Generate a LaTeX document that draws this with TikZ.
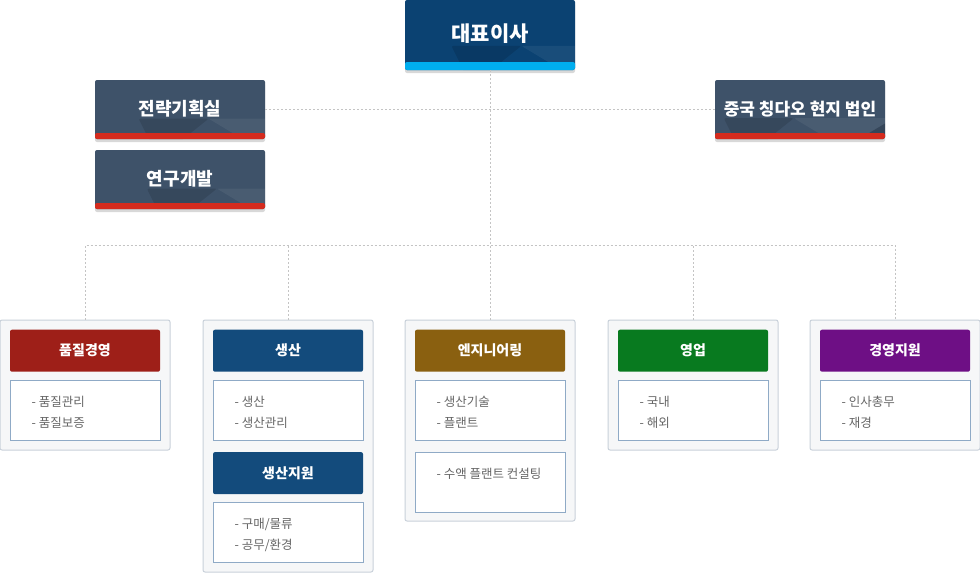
\documentclass[tikz,border=0pt]{standalone}
\usepackage{fontspec}
\setmainfont{Noto Sans CJK KR}
\usetikzlibrary{positioning,shadows}

\definecolor{ceoblue}{HTML}{0B4272}
\definecolor{ceoline}{HTML}{00AEEF}
\definecolor{slate}{HTML}{3E5269}
\definecolor{slateline}{HTML}{D52B1E}
\definecolor{qualred}{HTML}{9E1F18}
\definecolor{prodblue}{HTML}{134B7C}
\definecolor{engbrown}{HTML}{8A6010}
\definecolor{salesgreen}{HTML}{087A1F}
\definecolor{mgmtpurple}{HTML}{6E0F85}
\definecolor{panelgray}{HTML}{F6F7F8}
\definecolor{panelline}{HTML}{C9D1DA}
\definecolor{listline}{HTML}{8FAAC6}
\definecolor{listtext}{HTML}{666666}
\definecolor{dotline}{HTML}{C4C4C4}

\tikzset{
	facets/.style 2 args={path picture={
		\begin{scope}[shift={(path picture bounding box.north west)}]
			\fill[black,opacity=0.12] (0,0)--(70,0)--(20,40)--cycle;
			\fill[white,opacity=0.06] (70,0)--(170,0)--(120,30)--cycle;
			\fill[black,opacity=0.10] (20,40)--(0,75)--(90,75)--cycle;
			\fill[white,opacity=0.05] (90,75)--(120,30)--(170,75)--cycle;
			\fill[black,opacity=0.14] (120,30)--(170,0)--(170,45)--cycle;
			\fill[black,opacity=0.12] (45,75)--(70,35)--(100,75)--cycle;
		\end{scope}
		\fill[#1] (path picture bounding box.south west) rectangle
			([yshift=#2]path picture bounding box.south east);
	}},
	topbox/.style={minimum width=170pt,inner sep=0pt,rounded corners=2pt,
		text=white,drop shadow={opacity=0.3,shadow xshift=0pt,shadow yshift=-3pt}},
	panel/.style={draw=panelline,fill=panelgray,line width=1pt,rounded corners=2pt,
		minimum width=170pt,inner sep=0pt},
	head/.style={rounded corners=2pt,minimum width=150pt,minimum height=42pt,
		inner sep=0pt,text=white,font=\fontsize{14}{16}\selectfont\bfseries},
	listbox/.style={draw=listline,fill=white,line width=1pt,minimum width=150pt,
		minimum height=60pt,inner sep=0pt},
	listtxt/.style={anchor=north west,inner sep=0pt,align=left,text=listtext,
		font=\fontsize{12.5}{21}\selectfont},
	dotted line/.style={draw=dotline,line width=1pt,dash pattern=on 2pt off 2pt},
}

\begin{document}
\begin{tikzpicture}[x=1pt,y=-1pt]

\useasboundingbox[fill=white] (0,0) rectangle (980,582);

\node[topbox,fill=ceoblue,facets={ceoline}{8pt},minimum height=70pt,
	font=\fontsize{21}{24}\selectfont\bfseries] (ceo) at (490,35) {\raisebox{4pt}{대표이사}};
\node[topbox,fill=slate,facets={slateline}{6pt},minimum height=59pt,
	font=\fontsize{18}{20}\selectfont\bfseries] (strategy) at (180,109.5) {\raisebox{3pt}{전략기획실}};
\node[topbox,fill=slate,facets={slateline}{6pt},minimum height=59pt,
	font=\fontsize{18}{20}\selectfont\bfseries] (research) at (180,179.5) {\raisebox{3pt}{연구개발}};
\node[topbox,fill=slate,facets={slateline}{6pt},minimum height=59pt,
	font=\fontsize{17}{20}\selectfont\bfseries] (china) at (800,109.5) {\raisebox{3pt}{중국 칭다오 현지 법인}};

\node[panel,minimum height=130pt] (p1) at (85,385) {};
\node[panel,minimum height=252pt] (p2) at (288,446) {};
\node[panel,minimum height=201pt] (p3) at (490,420.5) {};
\node[panel,minimum height=130pt] (p4) at (693,385) {};
\node[panel,minimum height=130pt] (p5) at (895,385) {};

\coordinate (bus) at (490,245);
\draw[dotted line] (ceo.south) -- (p3.north);
\draw[dotted line] (strategy.east) -- (china.west);
\draw[dotted line] (p1.north) -- (p1.north |- bus) -- (p5.north |- bus) -- (p5.north);
\foreach \p in {p2,p4}
	\draw[dotted line] (\p.north) -- (\p.north |- bus);

% quality
\node[head,fill=qualred,below=10pt of p1.north] (h1) {품질경영};
\node[listbox,below=8pt of h1] (l1) {};
\node[listtxt] (t1) at ([xshift=22pt,yshift=-16pt]l1.north west) {- 품질관리\\- 품질보증};

% production
\node[head,fill=prodblue,below=10pt of p2.north] (h2) {생산};
\node[listbox,below=8pt of h2] (l2) {};
\node[listtxt] (t2) at ([xshift=22pt,yshift=-16pt]l2.north west) {- 생산\\- 생산관리};
\node[head,fill=prodblue,below=11pt of l2] (h2b) {생산지원};
\node[listbox,below=8pt of h2b] (l2b) {};
\node[listtxt] (t2b) at ([xshift=22pt,yshift=-16pt]l2b.north west) {- 구매/물류\\- 공무/환경};

% engineering
\node[head,fill=engbrown,below=10pt of p3.north] (h3) {엔지니어링};
\node[listbox,below=8pt of h3] (l3) {};
\node[listtxt] (t3) at ([xshift=22pt,yshift=-16pt]l3.north west) {- 생산기술\\- 플랜트};
\node[listbox,below=11pt of l3] (l3b) {};
\node[listtxt] (t3b) at ([xshift=22pt,yshift=-16pt]l3b.north west) {- 수액 플랜트 컨설팅};

% sales
\node[head,fill=salesgreen,below=10pt of p4.north] (h4) {영업};
\node[listbox,below=8pt of h4] (l4) {};
\node[listtxt] (t4) at ([xshift=22pt,yshift=-16pt]l4.north west) {- 국내\\- 해외};

% management
\node[head,fill=mgmtpurple,below=10pt of p5.north] (h5) {경영지원};
\node[listbox,below=8pt of h5] (l5) {};
\node[listtxt] (t5) at ([xshift=22pt,yshift=-16pt]l5.north west) {- 인사총무\\- 재경};

\end{tikzpicture}
\end{document}
